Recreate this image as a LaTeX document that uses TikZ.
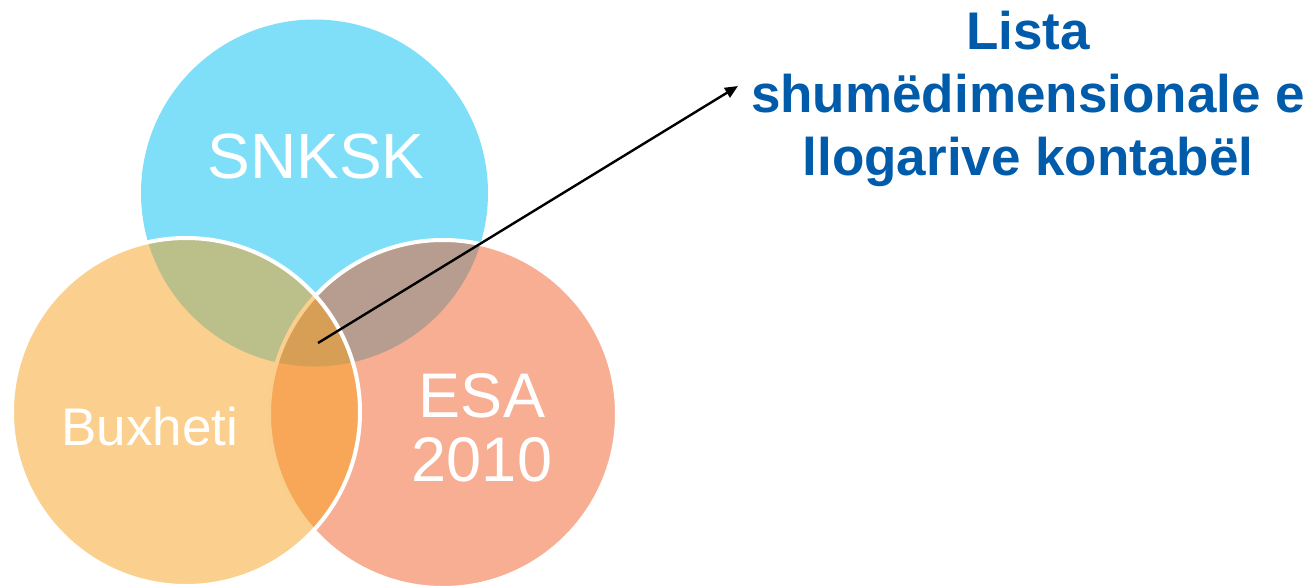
\documentclass[tikz,border=0pt]{standalone}
\usepackage{fontspec}
\setmainfont{Liberation Sans}
\usetikzlibrary{arrows.meta}
\definecolor{cyanc}{RGB}{128,223,248}
\definecolor{leftc}{RGB}{247,161,29}
\definecolor{rightc}{RGB}{239,93,39}
\definecolor{bluet}{RGB}{0,91,170}
\tikzset{
  venn/.style={fill opacity=0.5, draw=white, line width=4pt},
  lbl/.style={text=white, anchor=base, inner sep=0pt},
  title/.style={text=bluet, anchor=base, inner sep=0pt, font=\fontsize{53}{53}\selectfont\bfseries},
  pointer/.style={draw=black, line width=2.4pt, -{Triangle[length=13pt,width=11pt]}}
}
\begin{document}
\begin{tikzpicture}[x=1pt,y=-1pt]
\useasboundingbox (0,0) rectangle (1311,587);
% circles
\fill[cyanc] (314.5,193) circle (173.5);
\path[venn, fill=rightc] (443,414) circle (174);
\path[venn, fill=leftc] (186,412) circle (174);
% labels
\node[lbl, font=\fontsize{64}{64}\selectfont] (snksk) at (316,178) {SNKSK};
\node[lbl, font=\fontsize{53}{53}\selectfont] (bux) at (150,445) {Buxheti};
\node[lbl, font=\fontsize{63}{63}\selectfont] (esa) at (482,417) {ESA};
\node[lbl, font=\fontsize{63}{63}\selectfont] (y2010) at (482,481) {2010};
% title
\node[title] (t1) at (1028,49) {Lista};
\node[title] (t2) at (1028,112) {shumëdimensionale e};
\node[title] (t3) at (1028,175) {llogarive kontabël};
% arrow
\coordinate (center) at (318,343);
\coordinate (tip) at (738,86);
\draw[pointer] (center) -- (tip);
\end{tikzpicture}
\end{document}
